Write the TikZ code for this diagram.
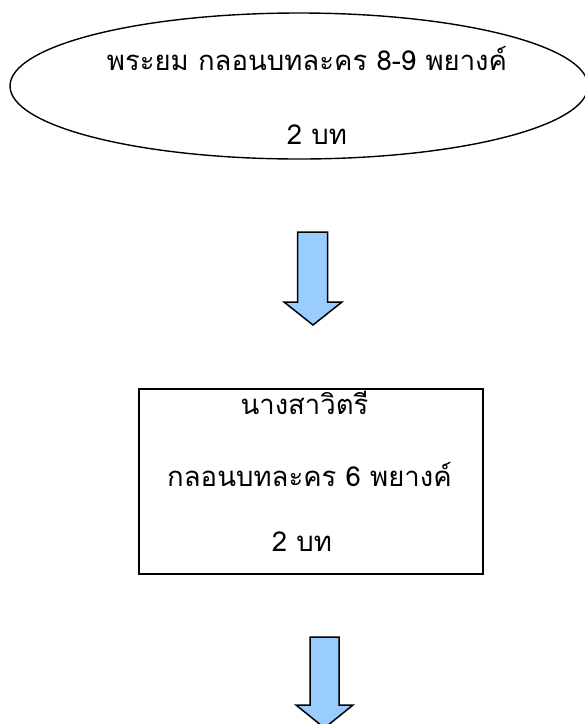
\documentclass[tikz,border=0pt]{standalone}
\usepackage{fontspec}
\newfontfamily\thaifont[Script=Thai]{Loma}
\usetikzlibrary{shapes.geometric}
\definecolor{arrowblue}{RGB}{153,204,255}
\tikzset{
  shapeline/.style={draw=black, line width=1.4pt},
  thaitext/.style={font=\thaifont\fontsize{27.5}{32}\selectfont, inner sep=0pt, anchor=center},
  blockarrow/.style={draw=black, line width=1.5pt, fill=arrowblue, line join=miter}
}
\begin{document}
\begin{tikzpicture}[x=1pt,y=-1pt]
\useasboundingbox (0,0) rectangle (585,724);
\clip (0,0) rectangle (585,724);
\fill[white] (0,0) rectangle (585,724);
% ellipse
\node[shapeline, ellipse, minimum width=578pt, minimum height=146pt, inner sep=0pt] (e) at (299,86) {};
\node[thaitext] (e1) at (307,59) {พระยม กลอนบทละคร 8-9 พยางค์};
\node[thaitext] (e2) at (317,135) {2 บท};
% arrow 1
\draw[blockarrow] (297.5,232) -- (327.5,232) -- (327.5,302) -- (342,302) -- (313,325) -- (284,302) -- (297.5,302) -- cycle;
% box
\node[shapeline, rectangle, minimum width=344pt, minimum height=185pt, inner sep=0pt] (b) at (311,481.5) {};
\node[thaitext] (b1) at (304.5,403) {นางสาวิตรี};
\node[thaitext] (b2) at (309.5,475) {กลอนบทละคร 6 พยางค์};
\node[thaitext] (b3) at (302,542) {2 บท};
% arrow 2
\draw[blockarrow] (310,637) -- (339,637) -- (339,705) -- (353,705) -- (324.5,728) -- (296,705) -- (310,705) -- cycle;
\end{tikzpicture}
\end{document}
